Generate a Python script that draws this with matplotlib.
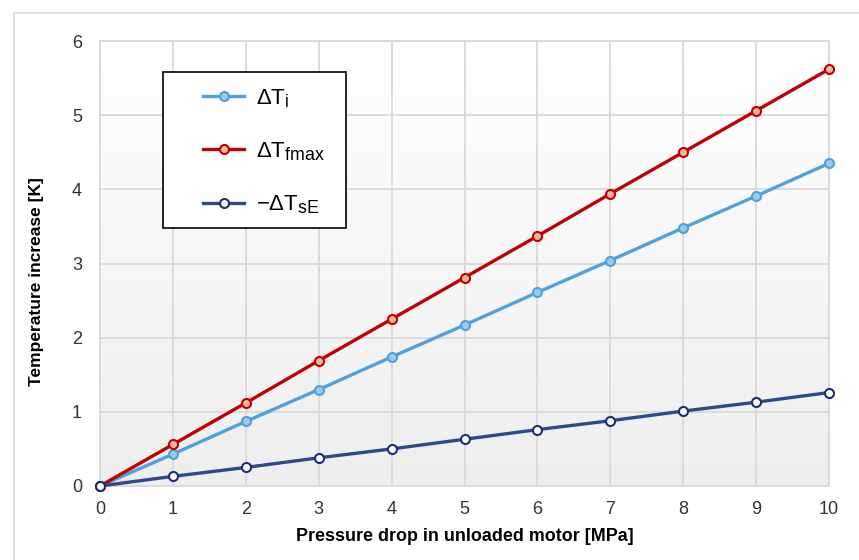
import numpy as np
import matplotlib
matplotlib.use("Agg")
import matplotlib.pyplot as plt
from matplotlib.patches import Rectangle
from matplotlib.colors import LinearSegmentedColormap
try:
    import matplotlib._mathtext as _mt
    _mt.SHRINK_FACTOR = 0.8
except Exception:
    pass

plt.rcParams['font.family'] = ['Liberation Sans', 'DejaVu Sans']
plt.rcParams['mathtext.fontset'] = 'custom'
plt.rcParams['mathtext.rm'] = 'Liberation Sans'
plt.rcParams['mathtext.it'] = 'Liberation Sans'

pressure = [0, 1, 2, 3, 4, 5, 6, 7, 8, 9, 10]
dT_i = [0, 0.43, 0.87, 1.30, 1.74, 2.17, 2.61, 3.04, 3.48, 3.91, 4.35]
dT_fmax = [0, 0.56, 1.12, 1.69, 2.25, 2.81, 3.37, 3.94, 4.50, 5.06, 5.62]
dT_sE = [0, 0.13, 0.25, 0.38, 0.50, 0.63, 0.76, 0.88, 1.01, 1.13, 1.26]
labels = [r'$\mathregular{\Delta T_{i}}$', r'$\mathregular{\Delta T_{fmax}}$', r'$\mathregular{-\Delta T_{sE}}$']

fig = plt.figure(figsize=(8.59, 5.6), dpi=100)
# outer border
fig.patches.append(Rectangle((14/859, -0.1), 1.0, 1 - 13/560 + 0.1, transform=fig.transFigure,
                             fill=False, edgecolor='#d9d9d9', linewidth=1.2))
ax = fig.add_axes([100/859, 1 - 486/560, 729/859, 445/560])

# gradient background
grad = np.linspace(0, 1, 256).reshape(-1, 1)
cmap = LinearSegmentedColormap.from_list('g', ['#ffffff', '#eeeeee'])
ax.imshow(grad, aspect='auto', cmap=cmap, extent=[0, 10, 0, 6], origin='upper', zorder=0)

ax.set_xlim(0, 10)
ax.set_ylim(0, 6)
ax.set_xticks(range(0, 11))
ax.set_yticks(range(0, 7))
ax.grid(True, color='#d9d9d9', linewidth=1.3, zorder=0.5)
ax.set_axisbelow(True)
for s in ax.spines.values():
    s.set_color('#d9d9d9')
    s.set_linewidth(1.3)
ax.tick_params(length=0, labelsize=13, colors='#333333')
ax.tick_params(axis='x', pad=11)
ax.tick_params(axis='y', pad=13)

l1, = ax.plot(pressure, dT_i, color='#4fa1dc', lw=2.4, marker='o', ms=6.5,
              mfc='#9cc8ec', mec='#4fa1dc', mew=1.5, zorder=3, clip_on=False)
l2, = ax.plot(pressure, dT_fmax, color='#c00000', lw=2.4, marker='o', ms=6.5,
              mfc='#f6b89a', mec='#c00000', mew=1.5, zorder=3, clip_on=False)
l3, = ax.plot(pressure, dT_sE, color='#2f4a8a', lw=2.4, marker='o', ms=6.5,
              mfc='white', mec='#1f2f6e', mew=1.5, zorder=4, clip_on=False)

ax.set_xlabel('Pressure drop in unloaded motor [MPa]', fontsize=12.9, fontweight='bold', labelpad=7)
ax.set_ylabel('Temperature increase [K]', fontsize=12.5, fontweight='bold', labelpad=20)
ax.yaxis.set_label_coords(ax.yaxis.label.get_position()[0], 0.46) if False else None
ax.yaxis.label.set_y(0.46)

# legend box
ax.add_patch(Rectangle(((163 - 100)/729, (486 - 228)/445), (346 - 163)/729, (228 - 72)/445,
                       transform=ax.transAxes, fill=True, facecolor='white',
                       edgecolor='black', linewidth=1.2, zorder=5))
leg = ax.legend([l1, l2, l3], labels, loc='upper left', frameon=False,
                bbox_to_anchor=((203 - 100)/729, (486 - 87)/445), borderpad=0, borderaxespad=0,
                fontsize=16, handlelength=1.85, handletextpad=0.55, labelspacing=1.38)
leg.set_zorder(6)

fig.savefig('out.png', dpi=100)
